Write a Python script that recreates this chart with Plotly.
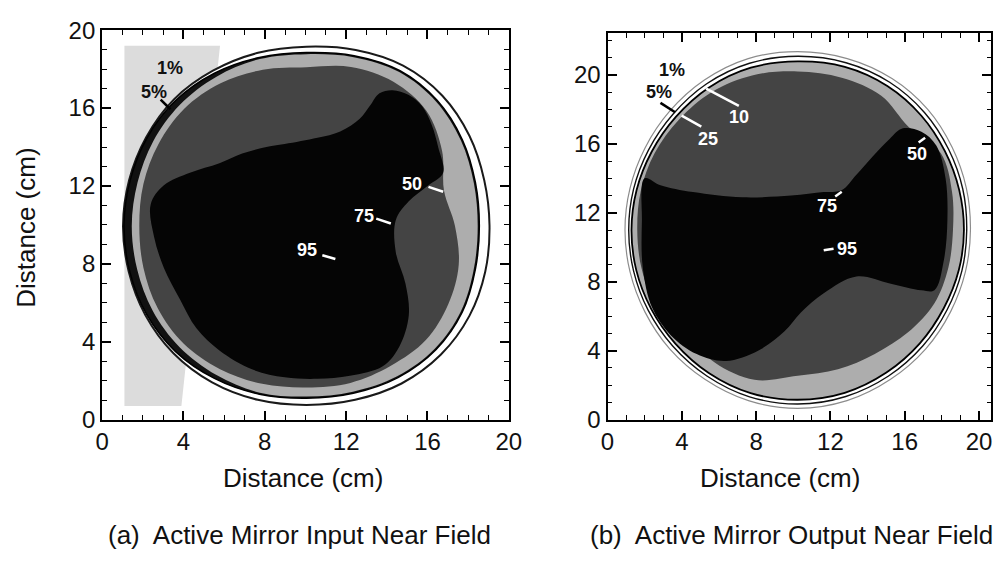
import numpy as np
import plotly.graph_objects as go

# ---------------- data ----------------
ANGLES_DEG = list(range(0, 360, 15))

# Panel (a): contour radii (cm) around the beam centre, one per angle
L_CENTER = (10.05, 9.95)
L_R_1PCT = [9.0, 9.05, 9.25, 9.45, 9.5, 9.35, 9.2, 9.2, 9.2, 9.2, 9.1, 9.03,
            9.02, 9.05, 9.15, 9.25, 9.28, 9.25, 9.2, 9.25, 9.35, 9.35, 9.25, 9.1]
L_R_5PCT = [8.5, 8.6, 8.85, 9.1, 9.2, 9.05, 8.9, 8.95, 9.05, 9.1, 9.05, 8.98,
            8.97, 9.0, 9.08, 9.12, 9.05, 8.95, 8.85, 8.9, 9.0, 9.0, 8.85, 8.6]
L_R_10PCT = [8.42, 8.52, 8.77, 9.02, 9.12, 8.97, 8.82, 8.87, 8.85, 8.8, 8.7, 8.6,
             8.59, 8.62, 8.73, 8.82, 8.85, 8.87, 8.77, 8.82, 8.92, 8.92, 8.77, 8.52]
L_R_50PCT = [7.3, 7.0, 7.7, 8.35, 8.55, 8.45, 8.15, 8.3, 8.45, 8.5, 8.4, 8.3,
             8.22, 8.3, 8.45, 8.55, 8.5, 8.4, 8.3, 8.35, 8.3, 8.3, 8.05, 7.75]
L_LOW_X = [1.1, 3.9, 5.8, 1.1]          # faint (<1%) background patch
L_LOW_Y = [0.7, 0.7, 19.2, 19.2]
L_75_X = [2.39, 3.04, 4.32, 5.77, 6.89, 8.02, 8.98, 10.59, 11.71, 12.67, 13.16, 13.64,
          14.28, 15.08, 15.73, 16.21, 16.53, 16.77, 16.05, 15.08, 14.44, 14.44, 14.92,
          15.08, 14.6, 13.8, 12.19, 10.59, 8.98, 7.37, 5.77, 4.64, 3.84, 3.04, 2.55]
L_75_Y = [11.05, 12.03, 12.68, 13.17, 13.66, 13.99, 14.15, 14.47, 14.8, 15.45, 16.1, 16.76,
          16.92, 16.67, 16.1, 15.13, 13.98, 12.68, 12.03, 11.21, 10.24, 8.61, 6.98,
          5.35, 3.72, 2.74, 2.25, 2.09, 2.17, 2.58, 3.55, 4.69, 6.16, 7.79, 9.42]
L_LABELS = ["1%", "5%", "50", "75", "95"]
L_LAB_X = [3.36, 2.55, 15.24, 12.9, 10.1]
L_LAB_Y = [18.06, 16.84, 12.11, 10.48, 8.69]
L_LAB_DARK = [True, True, False, False, False]
L_PTR_X = [[2.88, 3.36], [16.05, 16.77], [13.48, 14.2], [10.83, 11.47]]
L_PTR_Y = [[16.43, 15.94], [11.95, 11.7], [10.32, 10.07], [8.44, 8.25]]
L_PTR_DARK = [True, False, False, False]

# Panel (b)
R_CENTER = (10.24, 11.0)
R_R_1PCT = [9.3, 9.4, 9.6, 9.9, 10.15, 10.3, 10.35, 10.3, 10.05, 9.75, 9.5, 9.35,
            9.3, 9.35, 9.5, 9.75, 10.0, 10.25, 10.35, 10.25, 10.0, 9.75, 9.5, 9.35]
R_R_EDGE = [9.1, 9.2, 9.38, 9.65, 9.9, 10.05, 10.08, 10.02, 9.8, 9.5, 9.28, 9.15,
            9.1, 9.15, 9.3, 9.52, 9.78, 10.02, 10.1, 10.0, 9.78, 9.52, 9.28, 9.15]
R_R_5PCT = [8.95, 9.0, 9.15, 9.4, 9.65, 9.8, 9.78, 9.75, 9.55, 9.28, 9.08, 8.98,
            8.95, 9.0, 9.12, 9.32, 9.58, 9.8, 9.85, 9.78, 9.55, 9.3, 9.08, 8.98]
R_R_25PCT = [8.36, 8.6, 8.9, 8.45, 9.0, 9.15, 9.2, 9.3, 9.25, 9.05, 8.9, 8.75,
             8.64, 8.7, 8.8, 8.5, 8.9, 9.0, 8.46, 8.37, 8.3, 8.4, 8.5, 8.4]
R_75_X = [2.0, 2.85, 4.6, 7.25, 9.89, 11.64, 12.6, 13.4, 14.3, 15.2, 15.9, 16.9, 17.7,
          18.2, 18.3, 18.1, 17.6, 16.9, 15.2, 13.4, 11.64, 10.41, 9.53, 8.13, 6.37,
          4.8, 3.4, 2.4, 1.9, 1.85]
R_75_Y = [14.0, 13.6, 13.2, 12.9, 13.0, 13.2, 13.3, 14.2, 15.3, 16.3, 16.9, 16.7, 15.9,
          14.0, 11.6, 9.2, 7.5, 7.5, 7.9, 8.3, 7.33, 6.22, 5.12, 4.01, 3.4,
          3.8, 4.9, 6.5, 8.8, 11.5]
R_LABELS = ["1%", "5%", "10", "25", "50", "75", "95"]
R_LAB_X = [3.47, 2.76, 7.07, 5.4, 16.66, 11.82, 12.88]
R_LAB_Y = [20.31, 19.02, 17.55, 16.26, 15.43, 12.39, 9.91]
R_LAB_DARK = [True, True, False, False, False, False, False]
R_PTR_X = [[2.85, 3.64], [5.31, 7.07], [3.99, 5.05], [16.75, 17.1], [12.26, 12.61], [11.64, 12.17]]
R_PTR_Y = [[18.38, 17.83], [19.21, 18.2], [17.64, 17.0], [16.08, 16.35], [12.95, 13.22], [9.82, 9.91]]
R_PTR_DARK = [True, False, False, False, False, False]

TICK_VALS = [0, 4, 8, 12, 16, 20]

# ---------------- figure ----------------
FONT = "Liberation Sans, Arial, Helvetica, sans-serif"
C_BLACK = "#050505"
C_DARK = "#444444"
C_LIGHT = "#adadad"
fig = go.Figure()


def ring(center, radii):
    th = np.deg2rad(ANGLES_DEG)
    r = np.array(radii)
    return list(center[0] + r * np.cos(th)), list(center[1] + r * np.sin(th))


def area(x, y, xa, ya, fill, line_color=None, lw=0, spline=True, fillit=True):
    x = list(x) + [x[0]]
    y = list(y) + [y[0]]
    fig.add_trace(go.Scatter(
        x=x, y=y, xaxis=xa, yaxis=ya, mode="lines",
        fill="toself" if fillit else None, fillcolor=fill,
        line=dict(color=line_color or "rgba(0,0,0,0)", width=lw,
                  shape="spline" if spline else "linear", smoothing=1.0),
        hoverinfo="skip", showlegend=False))


# panel (a)
area(L_LOW_X, L_LOW_Y, "x", "y", "#dcdcdc", spline=False)
area(*ring(L_CENTER, L_R_1PCT), "x", "y", "white", "#1a1a1a", 2)
area(*ring(L_CENTER, L_R_5PCT), "x", "y", "#111111", "#000000", 1.5)
area(*ring(L_CENTER, L_R_10PCT), "x", "y", C_LIGHT)
area(*ring(L_CENTER, L_R_50PCT), "x", "y", C_DARK)
area(L_75_X, L_75_Y, "x", "y", C_BLACK)

# panel (b)
area(*ring(R_CENTER, R_R_1PCT), "x2", "y2", "white", "#8c8c8c", 1.2)
area(*ring(R_CENTER, R_R_EDGE), "x2", "y2", "rgba(0,0,0,0)", "#111111", 1.4, fillit=False)
area(*ring(R_CENTER, R_R_5PCT), "x2", "y2", C_LIGHT, "#000000", 1.8)
area(*ring(R_CENTER, R_R_25PCT), "x2", "y2", C_DARK)
area(R_75_X, R_75_Y, "x2", "y2", C_BLACK)

# pointer lines
for px, py, dark in zip(L_PTR_X, L_PTR_Y, L_PTR_DARK):
    fig.add_trace(go.Scatter(x=px, y=py, xaxis="x", yaxis="y", mode="lines",
                             line=dict(color="black" if dark else "white", width=2.5),
                             hoverinfo="skip", showlegend=False))
for px, py, dark in zip(R_PTR_X, R_PTR_Y, R_PTR_DARK):
    fig.add_trace(go.Scatter(x=px, y=py, xaxis="x2", yaxis="y2", mode="lines",
                             line=dict(color="black" if dark else "white", width=2.5),
                             hoverinfo="skip", showlegend=False))

annotations = []
for t, lx, ly, dark in zip(L_LABELS, L_LAB_X, L_LAB_Y, L_LAB_DARK):
    annotations.append(dict(text="<b>%s</b>" % t, x=lx, y=ly, xref="x", yref="y",
                            showarrow=False, font=dict(family=FONT, size=18,
                                                       color="#111" if dark else "white")))
for t, lx, ly, dark in zip(R_LABELS, R_LAB_X, R_LAB_Y, R_LAB_DARK):
    annotations.append(dict(text="<b>%s</b>" % t, x=lx, y=ly, xref="x2", yref="y2",
                            showarrow=False, font=dict(family=FONT, size=18,
                                                       color="#111" if dark else "white")))

TITLE_FONT = dict(family=FONT, size=26, color="#111")
common = dict(xref="paper", yref="paper", showarrow=False, font=TITLE_FONT,
              xanchor="center", yanchor="middle")
annotations += [
    dict(text="Distance (cm)", x=20 / 1007, y=1 - 225 / 563, textangle=-90, **common),
    dict(text="Distance (cm)", x=302 / 1007, y=1 - 487 / 563, **common),
    dict(text="Distance (cm)", x=789 / 1007, y=1 - 487 / 563, **common),
    dict(text="(a)  Active Mirror Input Near Field", x=298 / 1007, y=1 - 547 / 563, **common),
    dict(text="(b)  Active Mirror Output Near Field", x=800 / 1007, y=1 - 547 / 563, **common),
]


def axis(domain, rng, anchor):
    return dict(domain=domain, range=rng, anchor=anchor, showgrid=False, zeroline=False,
                showline=True, linecolor="black", linewidth=2, mirror="allticks",
                ticks="inside", ticklen=9, tickwidth=1.6, tickcolor="black",
                tickvals=TICK_VALS, tickfont=dict(family=FONT, size=24, color="#111"),
                minor=dict(ticks="inside", ticklen=4.5, tickwidth=1.3, dtick=1, tick0=0,
                           tickcolor="black"),
                fixedrange=True)


fig.update_layout(
    width=1007, height=563, margin=dict(l=0, r=0, t=0, b=0),
    paper_bgcolor="white", plot_bgcolor="white",
    xaxis=axis([97 / 1007, 512 / 1007], [0, 20], "y"),
    yaxis=axis([137 / 563, 546 / 563], [0, 20], "x"),
    xaxis2=axis([612.7 / 1007, 1004 / 1007], [0, 20.65], "y2"),
    yaxis2=axis([137 / 563, 543 / 563], [0, 22.43], "x2"),
    annotations=annotations,
)

fig.write_html("out.html")
